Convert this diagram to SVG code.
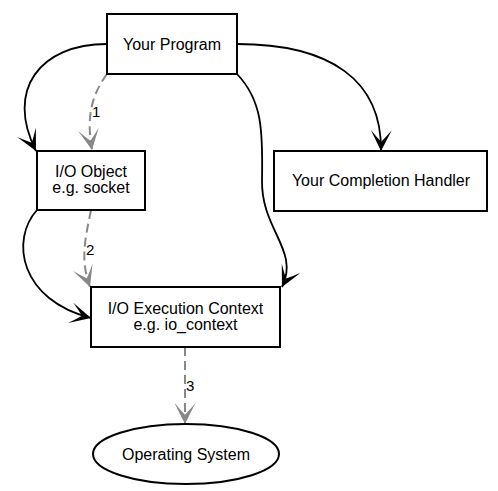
<svg xmlns="http://www.w3.org/2000/svg" width="498" height="491" viewBox="0 0 498 491">
<style>
.node{fill:#fff;stroke:#000;stroke-width:2}
.t{font-family:"Liberation Sans",Arial,sans-serif;font-size:16px;fill:#000;text-anchor:middle}
.lbl{font-family:"Liberation Sans",Arial,sans-serif;font-size:15px;fill:#000}
.e{fill:none;stroke:#000;stroke-width:1.8}
.d{fill:none;stroke:#888;stroke-width:2;stroke-dasharray:9,5}
</style>
<defs>
<marker id="ab" viewBox="0 0 18 18" markerUnits="userSpaceOnUse" markerWidth="21" markerHeight="21" refX="18" refY="9" orient="auto">
<path d="M18,9 Q8,4 0,0 Q6,5 10,9 Q6,13 0,18 Q8,14 18,9 Z" fill="#000"/>
</marker>
<marker id="ag" viewBox="0 0 18 18" markerUnits="userSpaceOnUse" markerWidth="21" markerHeight="21" refX="18" refY="9" orient="auto">
<path d="M18,9 Q8,4 0,0 Q6,5 10,9 Q6,13 0,18 Q8,14 18,9 Z" fill="#888"/>
</marker>
</defs>
<rect width="498" height="491" fill="#fff"/>
<g id="connectors">
<path class="e" d="M107,44 C40,44 5,90 36,151" marker-end="url(#ab)"/>
<path class="d" d="M107,74 C92,95 86,115 92,150" marker-end="url(#ag)"/>
<path class="e" d="M237,44 C330,44 382,80 381,151" marker-end="url(#ab)"/>
<path class="e" d="M237,74 C262,100 263,130 262,180 C261,230 300,250 282,287" marker-end="url(#ab)"/>
<path class="e" d="M37,210 C10,240 20,300 91,318" marker-end="url(#ab)"/>
<path class="d" d="M91,210 C85,240 80,260 90,287" marker-end="url(#ag)"/>
<path class="d" d="M185,347 L185,424" marker-end="url(#ag)"/>
<text class="lbl" x="92" y="117">1</text>
<text class="lbl" x="86" y="255">2</text>
<text class="lbl" x="186" y="391">3</text>
</g>
<g id="your_program">
<rect class="node" x="107" y="14" width="130" height="60"/>
<text class="t" x="172" y="50">Your Program</text>
</g>
<g id="io_object">
<rect class="node" x="37" y="151" width="108" height="59"/>
<text class="t" x="91" y="177">I/O Object</text>
<text class="t" x="91" y="193">e.g. socket</text>
</g>
<g id="completion_handler">
<rect class="node" x="274" y="151" width="213" height="60"/>
<text class="t" x="381" y="186">Your Completion Handler</text>
</g>
<g id="io_execution_context">
<rect class="node" x="91" y="287" width="189" height="60"/>
<text class="t" x="185.5" y="314">I/O Execution Context</text>
<text class="t" x="185.5" y="330">e.g. io_context</text>
</g>
<g id="operating_system">
<ellipse class="node" cx="186" cy="454" rx="93" ry="30"/>
<text class="t" x="186" y="460">Operating System</text>
</g>
</svg>
